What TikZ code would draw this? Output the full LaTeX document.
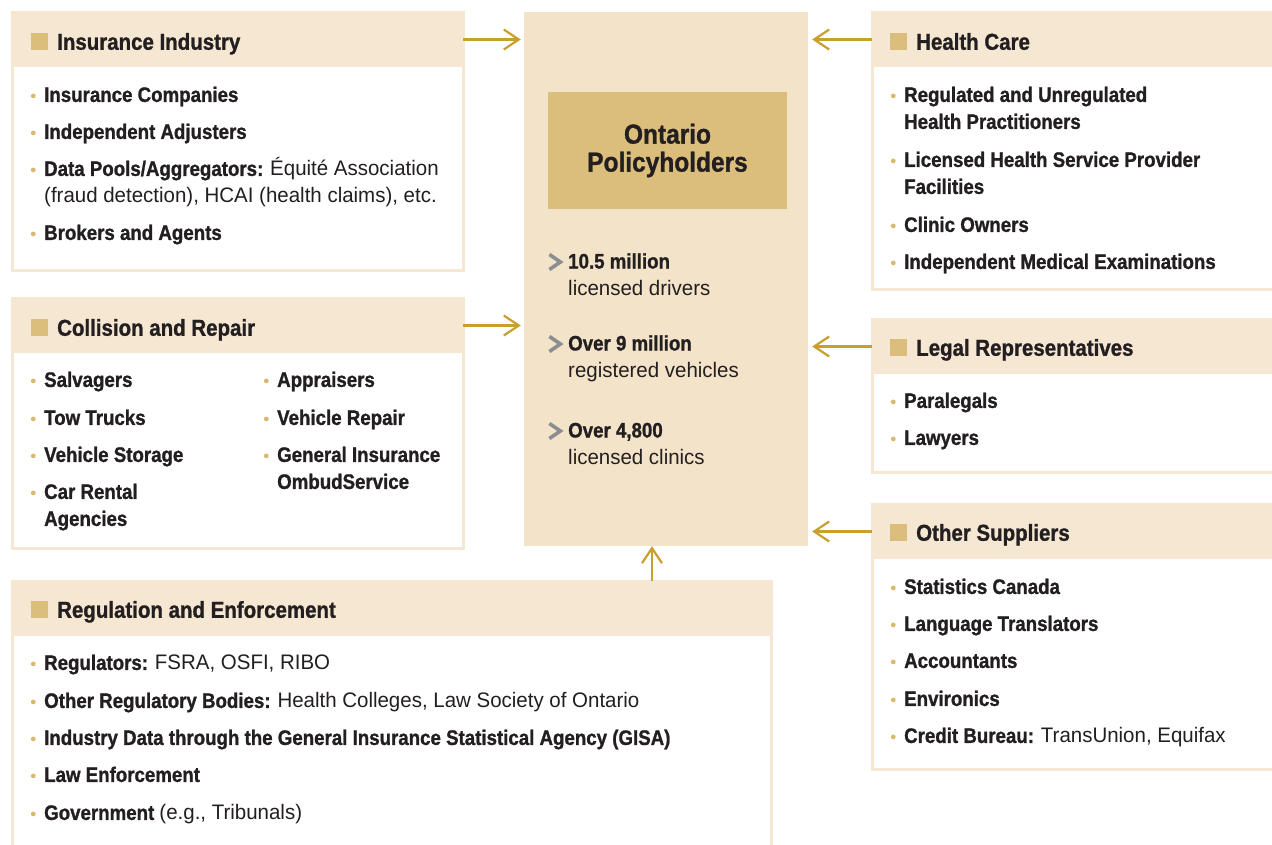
\documentclass[tikz,border=0pt]{standalone}
\usepackage{fontspec}
\setmainfont{Liberation Sans}[FakeStretch=0.975,BoldFeatures={FakeStretch=0.89,FakeBold=1.1}]
\usepackage{tikz}
\usetikzlibrary{arrows.meta,positioning}

\definecolor{headc}{RGB}{245,231,210}
\definecolor{midc}{RGB}{243,227,200}
\definecolor{gold}{RGB}{219,190,123}
\definecolor{arrowc}{RGB}{200,160,45}
\definecolor{dotc}{RGB}{218,185,110}
\definecolor{chevc}{RGB}{140,142,145}
\definecolor{ink}{RGB}{35,31,32}

% bullet dot and grey chevron, hung left of the text
\newcommand{\bul}{\llap{\tikz[baseline=0pt]\fill[dotc] (0,6pt) circle (2.4pt);\hspace{8.5pt}}}
\newcommand{\chev}{\llap{\tikz[baseline=0pt]\draw[chevc,line width=3.6pt] (0,-1pt) -- (11pt,6.5pt) -- (0,14pt);\hspace{6pt}}}
\newcommand{\rg}[1]{{\mdseries #1}}

\begin{document}
\begin{tikzpicture}
	[x=1pt,y=-1pt,
	 panel/.style={draw=headc,line width=3pt,fill=white,anchor=north west,inner sep=0,outer sep=0},
	 headbar/.style={fill=headc,anchor=north west,inner sep=0,outer sep=0,minimum height=55pt},
	 title/.style={anchor=west,inner sep=0,text=ink,font=\fontsize{23}{23}\selectfont\bfseries,text height=16.5pt,text depth=0pt},
	 sq/.style={fill=gold,inner sep=0,minimum size=17pt},
	 items/.style={anchor=north west,inner sep=0,align=left,text=ink,font=\fontsize{21}{27}\selectfont\bfseries},
	 link/.style={draw=arrowc,line width=2.2pt,-{Straight Barb[length=15pt,width=20pt]}}]
\useasboundingbox (0,0) rectangle (1272,844);

% panels on the left
\node[panel,minimum width=451pt,minimum height=258pt] (ins) at (12,12) {};
\node[headbar,minimum width=451pt] (insH) at (12,12) {};
\node[panel,minimum width=451pt,minimum height=250pt] (col) at (12,298) {};
\node[headbar,minimum width=451pt] (colH) at (12,298) {};
\node[panel,minimum width=759pt,minimum height=290pt] (reg) at (12,581) {};
\node[headbar,minimum width=759pt] (regH) at (12,581) {};

% panels on the right (run off the page edge)
\node[panel,minimum width=430pt,minimum height=277pt] (hc) at (872,12) {};
\node[headbar,minimum width=430pt] (hcH) at (872,12) {};
\node[panel,minimum width=430pt,minimum height=153pt] (leg) at (872,319) {};
\node[headbar,minimum width=430pt] (legH) at (872,319) {};
\node[panel,minimum width=430pt,minimum height=265pt] (oth) at (872,504) {};
\node[headbar,minimum width=430pt] (othH) at (872,504) {};

% titles
\node[title] (insT) at (57,41.5) {Insurance Industry};
\node[title] (colT) at (57,327.5) {Collision and Repair};
\node[title] (regT) at (57,609.5) {Regulation and Enforcement};
\node[title] (hcT) at (916,41.5) {Health Care};
\node[title] (legT) at (916,347.5) {Legal Representatives};
\node[title] (othT) at (916,532.5) {Other Suppliers};
\foreach \t in {insT,colT,regT,hcT,legT,othT}
\node[sq,left=9pt of \t] {};

% lists
\node[items] (insL) at (44,86.5) {\bul Insurance Companies\\[10pt]
\bul Independent Adjusters\\[10pt]
\bul Data Pools/Aggregators: \rg{Équité Association}\\
\rg{(fraud detection), HCAI (health claims), etc.}\\[10pt]
\bul Brokers and Agents};
\node[items] (colL) at (44,371.5) {\bul Salvagers\\[11pt]
\bul Tow Trucks\\[10pt]
\bul Vehicle Storage\\[10pt]
\bul Car Rental\\
Agencies};
\node[items] (colR) at (277,371.5) {\bul Appraisers\\[11pt]
\bul Vehicle Repair\\[10pt]
\bul General Insurance\\
OmbudService};
\node[items] (regL) at (44,654.5) {\bul Regulators: \rg{FSRA, OSFI, RIBO}\\[11pt]
\bul Other Regulatory Bodies: \rg{Health Colleges, Law Society of Ontario}\\[10pt]
\bul Industry Data through the General Insurance Statistical Agency (GISA)\\[10pt]
\bul Law Enforcement\\[11pt]
\bul Government \rg{(e.g., Tribunals)}};
\node[items] (hcL) at (904,86.5) {\bul Regulated and Unregulated\\
Health Practitioners\\[11pt]
\bul Licensed Health Service Provider\\
Facilities\\[11pt]
\bul Clinic Owners\\[10pt]
\bul Independent Medical Examinations};
\node[items] (legL) at (904,392.5) {\bul Paralegals\\[10pt]
\bul Lawyers};
\node[items] (othL) at (904,578.5) {\bul Statistics Canada\\[10pt]
\bul Language Translators\\[10pt]
\bul Accountants\\[11pt]
\bul Environics\\[10pt]
\bul Credit Bureau: \rg{TransUnion, Equifax}};

% policyholders in the middle
\node[fill=midc,inner sep=0,minimum width=284pt,minimum height=534pt] (ctr) at (666,279) {};
\node[fill=gold,inner sep=0,minimum width=239pt,minimum height=117pt,align=center,text=ink,
	font=\fontsize{27.5}{28}\selectfont\bfseries] (poh) at (667.5,150.5) {Ontario\\Policyholders};
\node[items] (st1) at (568,252.5) {\chev 10.5 million\\\rg{licensed drivers}};
\node[items] (st2) at (568,334.5) {\chev Over 9 million\\\rg{registered vehicles}};
\node[items] (st3) at (568,421.5) {\chev Over 4,800\\\rg{licensed clinics}};

% arrows into the middle
\foreach \h in {insH,colH}
\draw[link,shorten >=3pt] (\h.east) -- (\h.east -| ctr.west);
\foreach \h in {hcH,legH,othH}
\draw[link,shorten >=4pt] (\h.west) -- (\h.west -| ctr.east);
\coordinate (up) at (652,581);
\draw[link] (up) -- (up |- ctr.south);
\end{tikzpicture}
\end{document}
